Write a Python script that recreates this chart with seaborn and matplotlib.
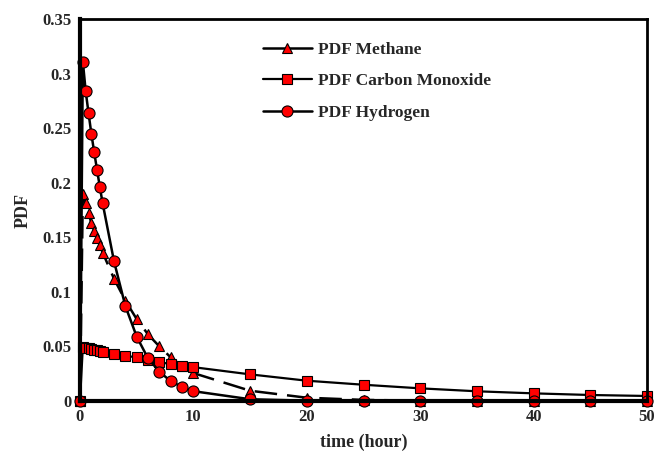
import matplotlib
matplotlib.use("Agg")
import matplotlib.pyplot as plt
import seaborn as sns
import pandas as pd
from matplotlib.lines import Line2D

time_h = [0, 0.25, 0.5, 0.75, 1.0, 1.25, 1.5, 1.75, 2.0, 3, 4, 5, 6, 7, 8, 9, 10,
          15, 20, 25, 30, 35, 40, 45, 50]
methane = [0, 0.190, 0.181, 0.172, 0.163, 0.156, 0.149, 0.143, 0.136, 0.112, 0.092,
           0.075, 0.061, 0.050, 0.040, 0.032, 0.0256, 0.0094, 0.003, 0.001, 0.0003,
           0.0001, 0.0, 0.0, 0.0]
carbon_monoxide = [0, 0.0497, 0.0490, 0.0483, 0.0477, 0.0470, 0.0464, 0.0458, 0.0452,
                   0.043, 0.0414, 0.040, 0.038, 0.036, 0.0335, 0.032, 0.031, 0.0244,
                   0.0186, 0.0149, 0.0116, 0.0089, 0.007, 0.0055, 0.0046]
hydrogen = [0, 0.311, 0.284, 0.264, 0.245, 0.228, 0.212, 0.196, 0.181, 0.128, 0.087,
            0.059, 0.039, 0.027, 0.018, 0.013, 0.009, 0.0016, 0.0003, 0.0001, 0.0,
            0.0, 0.0, 0.0, 0.0]
labels = ["PDF Methane", "PDF Carbon Monoxide", "PDF Hydrogen"]
x_ticks = [0, 10, 20, 30, 40, 50]
y_ticks = [0, 0.05, 0.1, 0.15, 0.2, 0.25, 0.3, 0.35]

sns.set_style("white")
plt.rcParams['font.family'] = ['Liberation Serif', 'DejaVu Serif']

fig = plt.figure(figsize=(6.56, 4.53), dpi=100)
ax = fig.add_axes([80/656, 1 - 401/453, (647-80)/656, (401-19)/453])

df = pd.DataFrame({"time": time_h, "m": methane, "c": carbon_monoxide, "h": hydrogen})

common = dict(color="black", markerfacecolor="red", markeredgecolor="black",
              markeredgewidth=0.8, ax=ax, legend=False)
sns.lineplot(data=df, x="time", y="m", marker="^", markersize=7.5, linewidth=1.8,
             dashes=False, **common)
ax.lines[-1].set_dashes([9, 4])
sns.lineplot(data=df, x="time", y="c", marker="s", markersize=6.5, linewidth=1.6, **common)
sns.lineplot(data=df, x="time", y="h", marker="o", markersize=8, linewidth=1.8, **common)

ax.set_xlim(0, 50)
ax.set_ylim(0, 0.35)
ax.set_xticks(x_ticks)
ax.set_xticklabels([str(t) for t in x_ticks])
ax.set_yticks(y_ticks)
ax.set_yticklabels(["0", "0.05", "0.1", "0.15", "0.2", "0.25", "0.3", "0.35"])
ax.tick_params(length=0, labelsize=12, pad=6)
for lab in ax.get_xticklabels() + ax.get_yticklabels():
    lab.set_fontweight("bold")
ax.set_xlabel("time (hour)", fontsize=13, fontweight="bold", labelpad=6)
ax.set_ylabel("PDF", fontsize=13, fontweight="bold", labelpad=8)

for s in ["left", "bottom"]:
    ax.spines[s].set_linewidth(3)
for s in ["top", "right"]:
    ax.spines[s].set_linewidth(2)
for s in ax.spines.values():
    s.set_color("black")
    s.set_visible(True)
for ln in ax.lines:
    ln.set_clip_on(False)

handles = [
    Line2D([], [], color="black", lw=1.8, marker="^", markersize=7.5,
           markerfacecolor="red", markeredgecolor="black", markeredgewidth=0.8),
    Line2D([], [], color="black", lw=1.6, marker="s", markersize=6.5,
           markerfacecolor="red", markeredgecolor="black", markeredgewidth=0.8),
    Line2D([], [], color="black", lw=1.8, marker="o", markersize=8,
           markerfacecolor="red", markeredgecolor="black", markeredgewidth=0.8),
]
leg = ax.legend(handles, labels, loc="upper left", bbox_to_anchor=(0.295, 0.982),
                frameon=False, prop={"weight": "bold", "size": 12.5},
                handlelength=2.8, labelspacing=0.9, handletextpad=0.35)

fig.savefig("out.png", dpi=100)
